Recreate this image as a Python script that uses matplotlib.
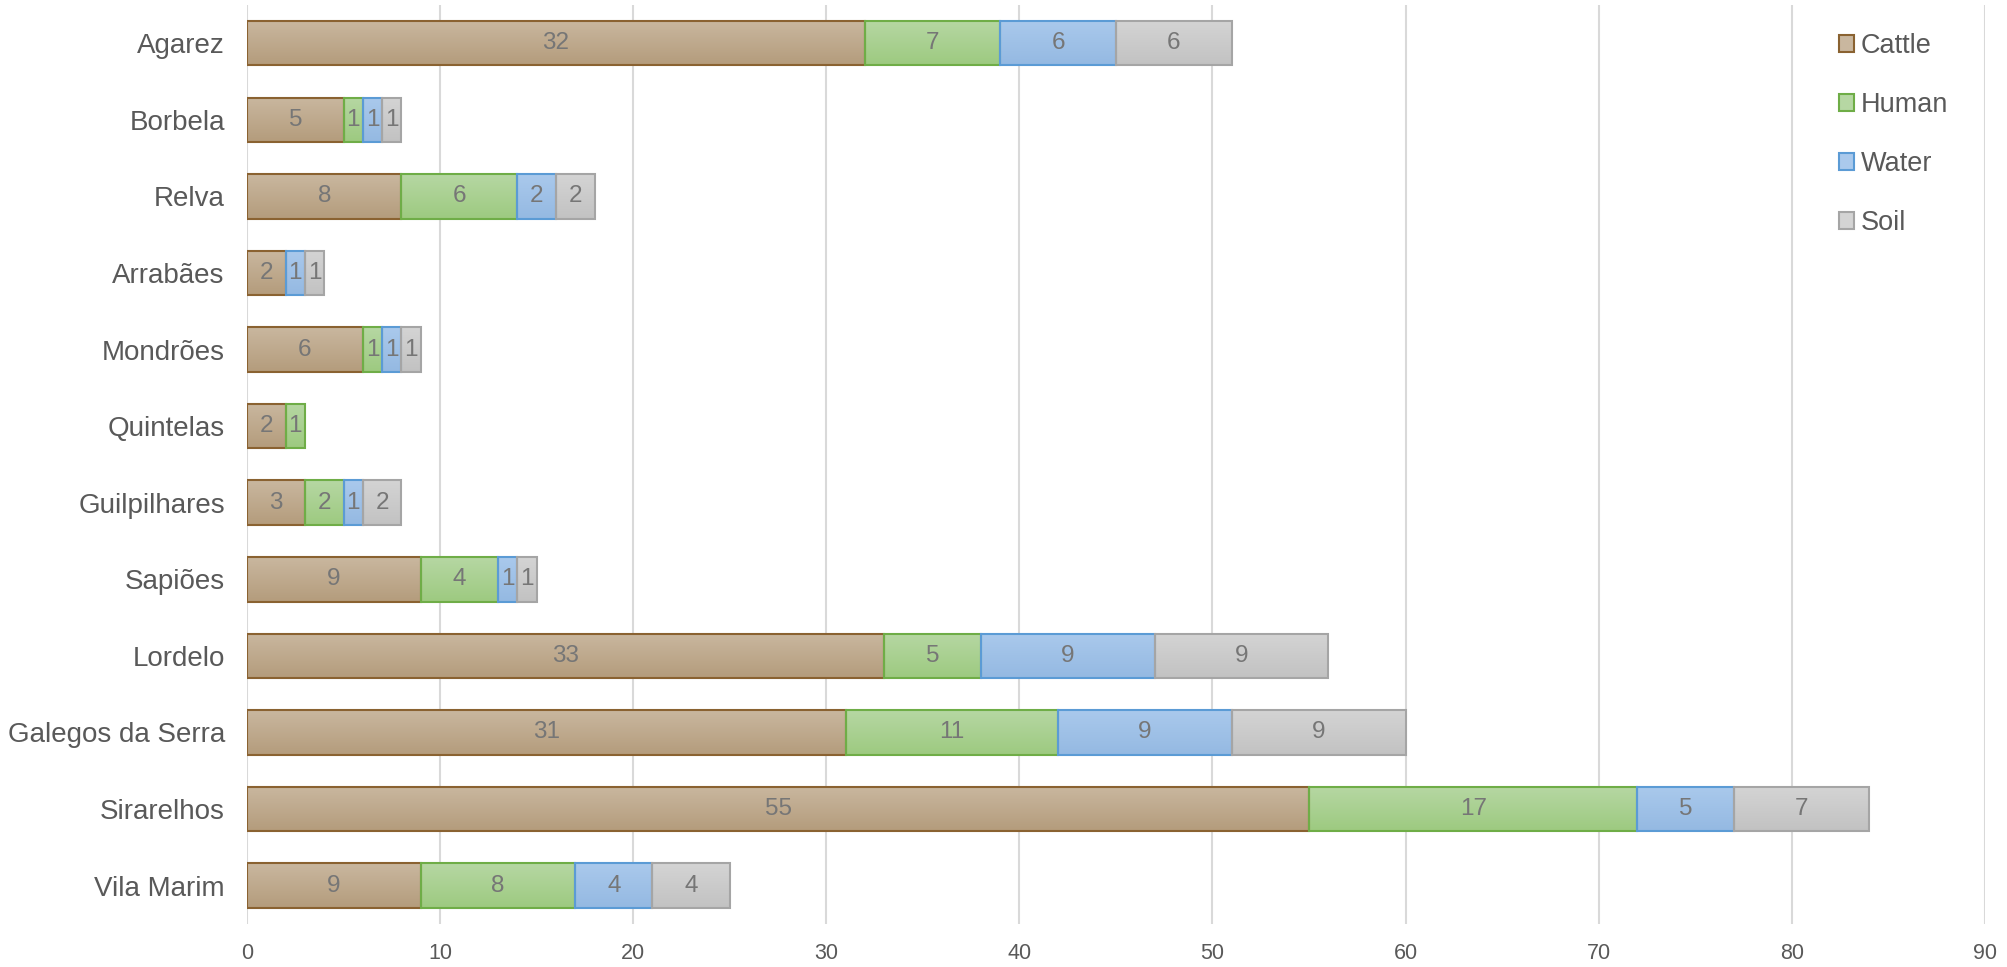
import numpy as np
import matplotlib
matplotlib.use("Agg")
import matplotlib.pyplot as plt
from matplotlib.patches import Patch

plt.rcParams['font.family'] = ['Liberation Sans', 'DejaVu Sans']

# data, top to bottom as in the chart
sites = ["Agarez", "Borbela", "Relva", "Arrabães", "Mondrões", "Quintelas",
         "Guilpilhares", "Sapiões", "Lordelo", "Galegos da Serra", "Sirarelhos", "Vila Marim"]
cattle = [32, 5, 8, 2, 6, 2, 3, 9, 33, 31, 55, 9]
human = [7, 1, 6, 0, 1, 1, 2, 4, 5, 11, 17, 8]
water = [6, 1, 2, 1, 1, 0, 1, 1, 9, 9, 5, 4]
soil = [6, 1, 2, 1, 1, 0, 2, 1, 9, 9, 7, 4]
series_names = ["Cattle", "Human", "Water", "Soil"]

# (top colour, bottom colour, edge colour)
styles = {
    "Cattle": ("#c9b79f", "#b49c7c", "#8a6231"),
    "Human": ("#b6d7a3", "#9dca80", "#6fad47"),
    "Water": ("#aac9ec", "#94b9e2", "#5b9bd5"),
    "Soil": ("#d4d4d4", "#c2c2c2", "#a5a5a5"),
}

fig = plt.figure(figsize=(20.08, 9.67), dpi=100)
ax = fig.add_axes([0.123, 0.0445, 0.8655, 0.9505])

y = np.arange(len(sites))
bar_h = 0.58
left = np.zeros(len(sites))

for name, vals in zip(series_names, [cattle, human, water, soil]):
    vals = np.array(vals, dtype=float)
    top_c, bot_c, edge_c = styles[name]
    grad = np.linspace(0, 1, 64).reshape(-1, 1)
    c0 = np.array(matplotlib.colors.to_rgb(top_c))
    c1 = np.array(matplotlib.colors.to_rgb(bot_c))
    img = (c0 * (1 - grad) + c1 * grad)[:, None, :]
    for i, v in enumerate(vals):
        if v <= 0:
            continue
        x0, x1 = left[i], left[i] + v
        # y axis is inverted later: extent bottom=y+h/2, top=y-h/2
        ax.imshow(img, extent=(x0, x1, y[i] + bar_h / 2, y[i] - bar_h / 2),
                  aspect='auto', origin='upper', zorder=2, interpolation='bilinear')
        ax.text(x0 + v / 2, y[i], f"{int(v)}", ha='center', va='center',
                fontsize=17.5, color='#767676', zorder=4)
    ax.barh(y, vals, left=left, height=bar_h, fill=False,
            edgecolor=[edge_c if v > 0 else 'none' for v in vals],
            linewidth=1.5, zorder=3)
    left += vals

ax.set_xlim(0, 90)
ax.set_ylim(len(sites) - 0.5, -0.5)
ax.set_xticks(np.arange(0, 91, 10))
ax.set_yticks(y)
ax.set_yticklabels(sites)
ax.grid(axis='x', color='#d9d9d9', linewidth=1.5, zorder=0)
ax.set_axisbelow(True)
for s in ax.spines.values():
    s.set_visible(False)
ax.tick_params(axis='both', length=0, colors='#595959')
ax.tick_params(axis='y', labelsize=20, pad=16)
ax.tick_params(axis='x', labelsize=15.5, pad=14)

handles = [Patch(facecolor=styles[n][0], edgecolor=styles[n][2], linewidth=1.5, label=n)
           for n in series_names]
leg = ax.legend(handles=handles, loc='upper left', bbox_to_anchor=(0.905, 0.99),
                frameon=False, fontsize=19.5, handlelength=0.55, handleheight=0.55,
                handletextpad=0.25, labelspacing=1.22, borderaxespad=0.3)
for t in leg.get_texts():
    t.set_color('#595959')

fig.savefig("out.png", dpi=100)
